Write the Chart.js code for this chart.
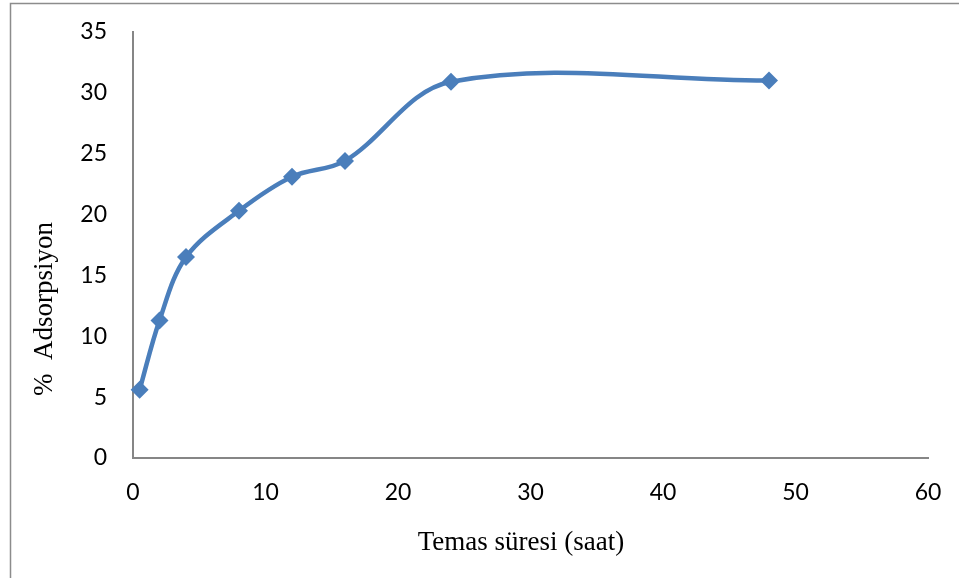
<!DOCTYPE html>
<html>
<head>
<meta charset="utf-8">
<script src="https://cdn.jsdelivr.net/npm/chart.js@4"></script>
<style>
  html, body { margin: 0; padding: 0; background: #fff; }
  #wrap { width: 959px; height: 578px; position: relative; }
</style>
</head>
<body>
<div id="wrap"><canvas id="adsChart" width="959" height="578"></canvas></div>
<script>
// Temas süresi (saat) vs % Adsorpsiyon
const hours = [0.5, 2, 4, 8, 12, 16, 24, 48];
const adsorption = [5.6, 11.3, 16.5, 20.3, 23.1, 24.4, 30.9, 31.0];
const xTicks = [0, 10, 20, 30, 40, 50, 60];
const yTicks = [0, 5, 10, 15, 20, 25, 30, 35];

const xTitle = "Temas süresi (saat)";
const yTitle = "%  Adsorpsiyon";

const axisGray = "#868686";
const lineBlue = "#4a7ebb";

const framePlugin = {
  id: "framePlugin",
  beforeDraw(chart) {
    const { ctx, width, height } = chart;
    ctx.save();
    ctx.strokeStyle = "#8c8c8c";
    ctx.lineWidth = 1.5;
    ctx.beginPath();
    ctx.moveTo(10.5, height);
    ctx.lineTo(10.5, 3.5);
    ctx.lineTo(width, 3.5);
    ctx.stroke();
    ctx.restore();
  },
  afterDraw(chart) {
    const { ctx } = chart;
    ctx.save();
    ctx.fillStyle = "#000";
    ctx.font = "27px 'Liberation Serif', 'Times New Roman', serif";
    ctx.textAlign = "center";
    ctx.textBaseline = "middle";
    ctx.fillText(xTitle, 521, 543);
    ctx.translate(45, 309);
    ctx.rotate(-Math.PI / 2);
    ctx.fillText(yTitle, 0, 0);
    ctx.restore();
  },
};

new Chart(document.getElementById("adsChart").getContext("2d"), {
  type: "line",
  data: {
    datasets: [
      {
        data: hours.map((h, i) => ({ x: h, y: adsorption[i] })),
        borderColor: lineBlue,
        backgroundColor: lineBlue,
        borderWidth: 4.5,
        tension: 0.35,
        pointStyle: "rectRot",
        pointRadius: 9,
        pointBorderWidth: 0,
        pointBackgroundColor: lineBlue,
        clip: false,
      },
    ],
  },
  options: {
    responsive: false,
    animation: false,
    layout: { padding: { left: 0, top: 29, right: 31, bottom: 0 } },
    plugins: {
      legend: { display: false },
      tooltip: { enabled: false },
    },
    scales: {
      x: {
        type: "linear",
        min: xTicks[0],
        max: xTicks[xTicks.length - 1],
        afterBuildTicks: (s) => { s.ticks = xTicks.map((v) => ({ value: v })); },
        afterFit: (s) => { s.height = 120; },
        grid: { display: false },
        border: { display: true, color: axisGray, width: 2 },
        ticks: {
          color: "#000",
          padding: 13,
          maxRotation: 0,
          font: { family: "Lato, 'Open Sans', sans-serif", size: 23 },
        },
      },
      y: {
        type: "linear",
        min: yTicks[0],
        max: yTicks[yTicks.length - 1],
        afterBuildTicks: (s) => { s.ticks = yTicks.map((v) => ({ value: v })); },
        afterFit: (s) => { s.width = 133; },
        grid: { display: false },
        border: { display: true, color: axisGray, width: 2 },
        ticks: {
          color: "#000",
          padding: 18,
          font: { family: "Lato, 'Open Sans', sans-serif", size: 23 },
        },
      },
    },
  },
  plugins: [framePlugin],
});
</script>
</body>
</html>
